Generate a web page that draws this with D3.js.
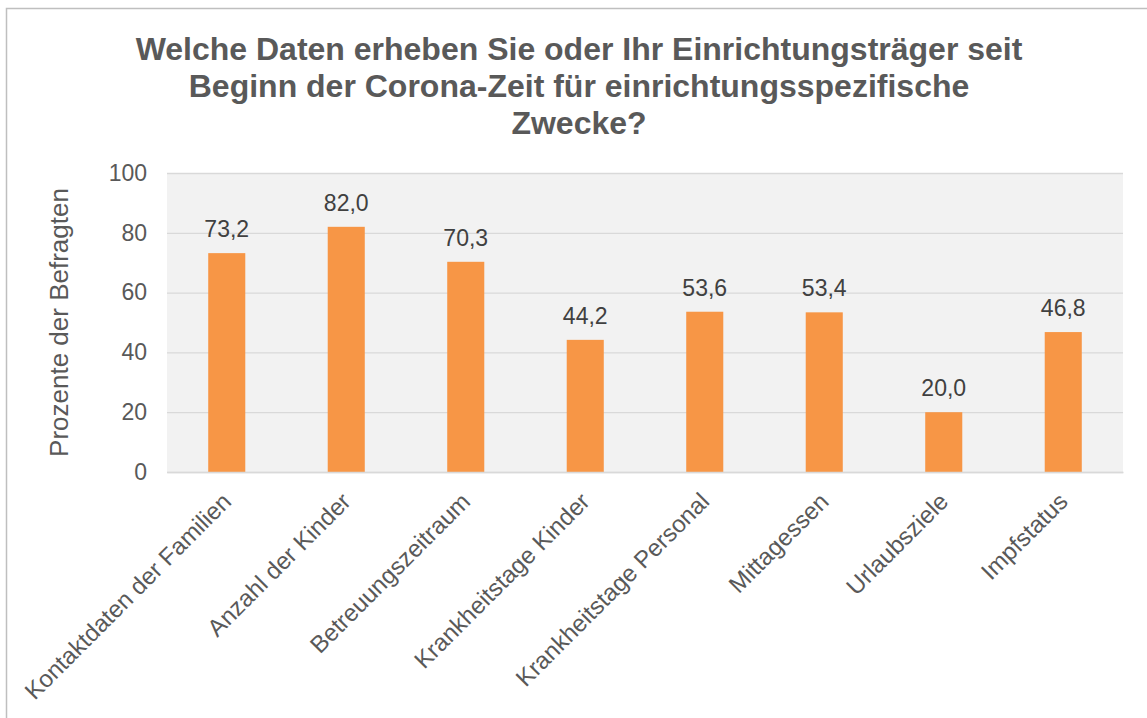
<!DOCTYPE html>
<html>
<head>
<meta charset="utf-8">
<script src="https://cdn.jsdelivr.net/npm/d3@7/dist/d3.min.js"></script>
<style>
  html, body { margin: 0; padding: 0; background: #ffffff; }
  svg { display: block; font-family: "Liberation Sans", Arial, sans-serif; }
</style>
</head>
<body>
<svg id="chart" width="1147" height="718"></svg>
<script>
// Survey answers: share of respondents (percent) per collected data type
const categories = [
  "Kontaktdaten der Familien",
  "Anzahl der Kinder",
  "Betreuungszeitraum",
  "Krankheitstage Kinder",
  "Krankheitstage Personal",
  "Mittagessen",
  "Urlaubsziele",
  "Impfstatus"
];
const values = [73.2, 82.0, 70.3, 44.2, 53.6, 53.4, 20.0, 46.8];
const yTicks = [0, 20, 40, 60, 80, 100];
const titleLines = [
  "Welche Daten erheben Sie oder Ihr Einrichtungsträger seit",
  "Beginn der Corona-Zeit für einrichtungsspezifische",
  "Zwecke?"
];
const yAxisTitle = "Prozente der Befragten";

const svg = d3.select("#chart");
const W = 1147, H = 718;
const textColor = "#595959";
const fmt = v => d3.format(".1f")(v).replace(".", ",");

// outer chart frame
svg.append("rect")
  .attr("x", 6.5).attr("y", 8.5)
  .attr("width", W).attr("height", H)
  .attr("fill", "#ffffff")
  .attr("stroke", "#bfbfbf").attr("stroke-width", 1.5);

const plot = { left: 167, top: 173, right: 1123, bottom: 472 };

const x = d3.scaleBand()
  .domain(categories)
  .range([plot.left, plot.right])
  .paddingInner(0.69)
  .paddingOuter(0.345);

const y = d3.scaleLinear()
  .domain([0, 100])
  .range([plot.bottom, plot.top]);

// plot background
svg.append("rect")
  .attr("x", plot.left).attr("y", plot.top)
  .attr("width", plot.right - plot.left)
  .attr("height", plot.bottom - plot.top)
  .attr("fill", "#f2f2f2");

// y axis with gridlines
const yAxis = svg.append("g")
  .attr("transform", `translate(${plot.left},0)`)
  .call(d3.axisLeft(y).tickValues(yTicks)
    .tickSize(-(plot.right - plot.left)).tickPadding(20));
yAxis.select(".domain").remove();
yAxis.selectAll(".tick line").attr("stroke", "#d9d9d9").attr("stroke-width", 1.3);
yAxis.selectAll(".tick text")
  .attr("fill", textColor)
  .style("font-size", "23px")
  .style("font-family", "'Liberation Sans', Arial, sans-serif");

// bars
svg.append("g").selectAll("rect")
  .data(values)
  .join("rect")
  .attr("x", (d, i) => x(categories[i]))
  .attr("y", d => y(d))
  .attr("width", x.bandwidth())
  .attr("height", d => y(0) - y(d))
  .attr("fill", "#f79646");

// value labels
svg.append("g").selectAll("text")
  .data(values)
  .join("text")
  .attr("x", (d, i) => x(categories[i]) + x.bandwidth() / 2)
  .attr("y", d => y(d) - 16)
  .attr("text-anchor", "middle")
  .attr("fill", "#404040")
  .style("font-size", "23px")
  .text(d => fmt(d));

// x axis baseline and rotated category labels
const xAxis = svg.append("g")
  .attr("transform", `translate(0,${plot.bottom})`)
  .call(d3.axisBottom(x).tickSize(0).tickPadding(0));
xAxis.select(".domain").attr("stroke", "#d9d9d9").attr("stroke-width", 1.5);
xAxis.selectAll(".tick text")
  .attr("fill", textColor)
  .style("font-size", "24px")
  .style("font-family", "'Liberation Sans', Arial, sans-serif")
  .attr("text-anchor", "end")
  .attr("dy", null)
  .attr("transform", "translate(6,31) rotate(-45)");

// y axis title
svg.append("text")
  .attr("transform", `translate(68,${(plot.top + plot.bottom) / 2}) rotate(-90)`)
  .attr("text-anchor", "middle")
  .attr("fill", textColor)
  .style("font-size", "26px")
  .text(yAxisTitle);

// chart title
svg.append("g").selectAll("text")
  .data(titleLines)
  .join("text")
  .attr("x", 579)
  .attr("y", (d, i) => 60 + i * 37)
  .attr("text-anchor", "middle")
  .attr("fill", textColor)
  .style("font-size", "32px")
  .style("font-weight", "bold")
  .text(d => d);
</script>
</body>
</html>
